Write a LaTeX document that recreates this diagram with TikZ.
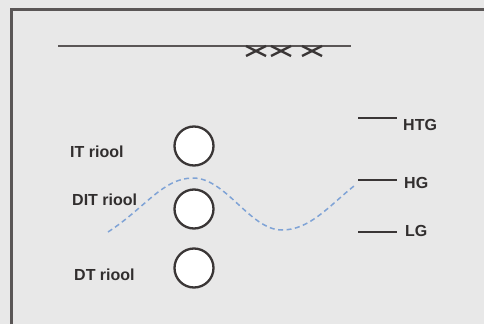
\documentclass[tikz,border=0pt]{standalone}
\usepackage{fontspec}
\setmainfont{Liberation Sans}
\definecolor{bgc}{HTML}{E8E8E8}
\definecolor{framec}{HTML}{5A5656}
\definecolor{inkc}{HTML}{3A3636}
\definecolor{wavec}{HTML}{7FA3D6}
\begin{document}
\begin{tikzpicture}[x=1pt,y=-1pt,
  lbl/.style={anchor=west,inner sep=0pt,font=\fontsize{16}{19}\selectfont\bfseries,text=inkc!85!black},
  pipe/.style={circle,draw=inkc,line width=2.3pt,fill=white,minimum size=39pt,inner sep=0pt},
  tick/.style={draw=inkc,line width=2.4pt},
  xmark/.style={draw=inkc,line width=2.3pt},
  wave/.style={draw=wavec,line width=1.5pt,dash pattern=on 5pt off 3.5pt}]
\fill[bgc] (0,0) rectangle (484,324);
\useasboundingbox (0,0) rectangle (484,324);
% frame
\draw[framec,line width=2.2pt] (11.5,324) -- (11.5,9.5) -- (484,9.5);
% top line
\coordinate (tl) at (58,46);
\coordinate (tr) at (351,46);
\draw[draw=framec,line width=1.4pt] (tl) -- (tr);
% x marks
\foreach \cx/\n in {256/xa,281/xb,312/xc}{
  \coordinate (\n) at (\cx,51);
  \draw[xmark] (\n) ++(-10,-5) -- ++(20,10);
  \draw[xmark] (\n) ++(-10,5) -- ++(20,-10);
}
% pipes
\node[pipe] (c1) at (194,146) {};
\node[pipe] (c2) at (194,209) {};
\node[pipe] (c3) at (194,268) {};
% labels
\node[lbl] (l1) at (70,151.5) {IT riool};
\node[lbl] (l2) at (72,199.5) {DIT riool};
\node[lbl] (l3) at (74,274.5) {DT riool};
% wave
\coordinate (w0) at (108,232);
\coordinate (w1) at (193,178);
\coordinate (w2) at (282,230);
\coordinate (w3) at (354,186);
\draw[wave] (w0) .. controls (145,208) and (163,178) .. (w1)
  .. controls (226,178) and (250,230) .. (w2)
  .. controls (310,230) and (330,205) .. (w3);
% right levels
\node[lbl] (htg) at (403,124.5) {HTG};
\node[lbl] (hg) at (404,183) {HG};
\node[lbl] (lg) at (405,231) {LG};
\coordinate (t1a) at (358,118); \coordinate (t1b) at (397,118);
\coordinate (t2a) at (358,180); \coordinate (t2b) at (397,180);
\coordinate (t3a) at (358,232); \coordinate (t3b) at (397,232);
\draw[tick] (t1a) -- (t1b);
\draw[tick] (t2a) -- (t2b);
\draw[tick] (t3a) -- (t3b);
\end{tikzpicture}
\end{document}
